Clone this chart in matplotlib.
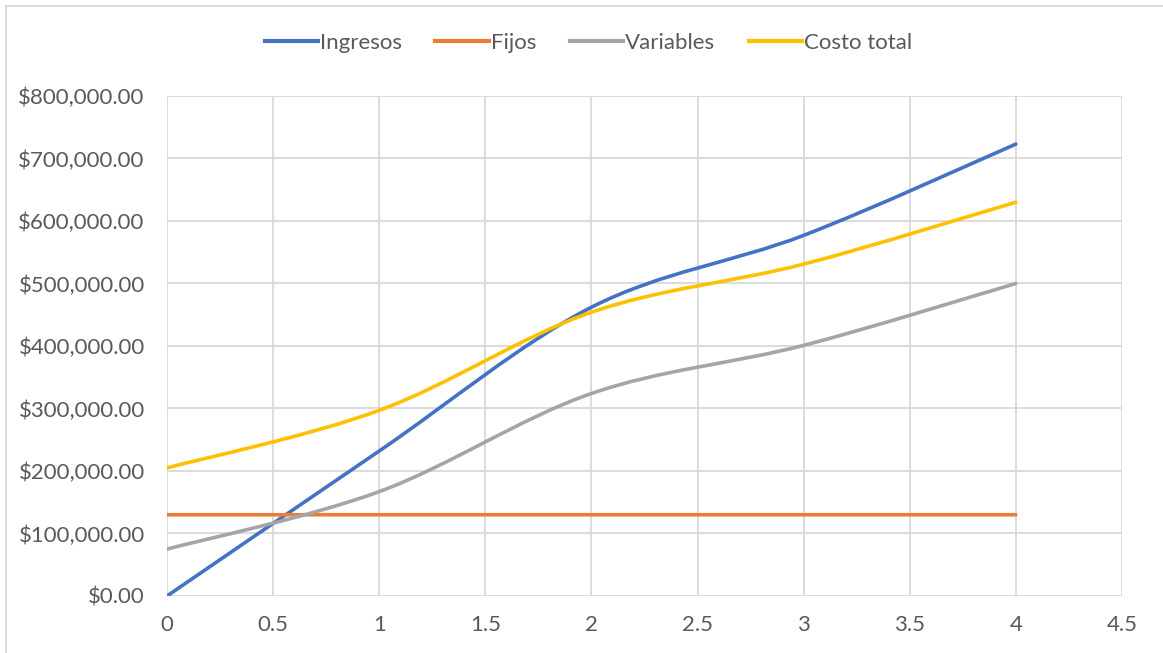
import numpy as np
import matplotlib.pyplot as plt
from matplotlib.path import Path
from matplotlib.patches import PathPatch
from matplotlib.lines import Line2D
from matplotlib.ticker import FuncFormatter, MultipleLocator

plt.rcParams['font.family'] = ['Lato', 'DejaVu Sans']

# Datos
x = [0, 1, 2, 3, 4]
ingresos = [0, 232000, 462000, 577000, 723000]
fijos = [130000, 130000, 130000, 130000, 130000]
variables = [75000, 167000, 324000, 401000, 500000]
costo_total = [205000, 297000, 454000, 531000, 630000]

series = [
    ('Ingresos', ingresos, '#4472C4'),
    ('Fijos', fijos, '#ED7D31'),
    ('Variables', variables, '#A5A5A5'),
    ('Costo total', costo_total, '#FFC000'),
]


# Linea suavizada tipo Excel (Bezier por Catmull-Rom)
def smooth_path(xs, ys):
    pts = np.column_stack([xs, ys]).astype(float)
    n = len(pts)
    verts = [pts[0]]
    codes = [Path.MOVETO]
    for i in range(n - 1):
        p0 = pts[i - 1] if i > 0 else pts[i]
        p1 = pts[i]
        p2 = pts[i + 1]
        p3 = pts[i + 2] if i + 2 < n else pts[i + 1]
        c1 = p1 + (p2 - p0) / 6.0
        c2 = p2 - (p3 - p1) / 6.0
        verts += [c1, c2, p2]
        codes += [Path.CURVE4] * 3
    return Path(verts, codes)


fig = plt.figure(figsize=(11.63, 6.53), dpi=100)
ax = fig.add_axes([0.1436, 0.0873, 0.8211, 0.7657])

for name, vals, col in series:
    patch = PathPatch(smooth_path(x, vals), facecolor='none', edgecolor=col,
                      lw=2.6, capstyle='round', joinstyle='round', zorder=3)
    ax.add_patch(patch)

ax.set_xlim(0, 4.5)
ax.set_ylim(0, 800000)
ax.xaxis.set_major_locator(MultipleLocator(0.5))
ax.yaxis.set_major_locator(MultipleLocator(100000))
ax.xaxis.set_major_formatter(FuncFormatter(lambda v, p: '{:g}'.format(v)))
ax.yaxis.set_major_formatter(FuncFormatter(lambda v, p: '${:,.2f}'.format(v)))
ax.grid(True, color='#D9D9D9', lw=1.3)
ax.set_axisbelow(True)
for s in ax.spines.values():
    s.set_visible(False)
ax.tick_params(length=0, labelsize=16, colors='#595959')
ax.tick_params(axis='y', pad=16)
ax.tick_params(axis='x', pad=14)

handles = [Line2D([], [], color=c, lw=3) for _, _, c in series]
fig.legend(handles, [s[0] for s in series], loc='center', ncol=4,
           bbox_to_anchor=(0.506, 0.934), frameon=False, fontsize=16,
           labelcolor='#595959', handlelength=2.4, handletextpad=0.1,
           columnspacing=1.5)

# borde del grafico
fig.add_artist(Line2D([0.0055, 0.0055], [0, 0.991], color='#D9D9D9', lw=1.3))
fig.add_artist(Line2D([0.0055, 1], [0.991, 0.991], color='#D9D9D9', lw=1.3))

fig.savefig('out.png', dpi=100)
